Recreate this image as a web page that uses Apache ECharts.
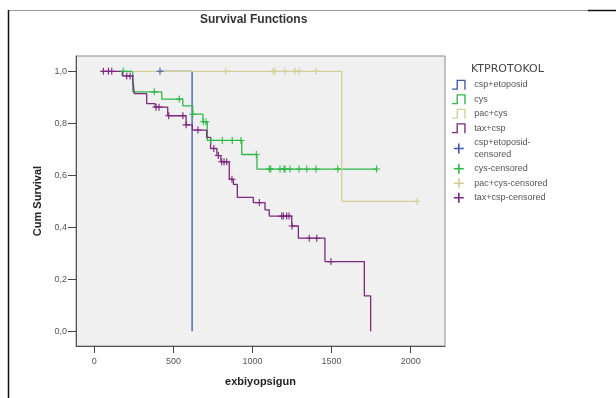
<!DOCTYPE html>
<html>
<head>
  <meta charset="utf-8" />
  <title>Survival Functions</title>
  <style>
    html, body { margin: 0; padding: 0; background: #fff; }
    #main { width: 616px; height: 398px; }
  </style>
</head>
<body>
  <div id="main"></div>
  <script src="https://cdn.jsdelivr.net/npm/echarts@6/dist/echarts.min.js"></script>
  <script>
    // step curves: [day, cum survival after that day]
    var etoSteps = [[415, 1], [618, 0]];
    var cysSteps = [[183, 1], [243, 0.921], [426, 0.893], [559, 0.867], [622, 0.835], [687, 0.806],
      [714, 0.734], [932, 0.680], [1028, 0.624], [1785, 0.624]];
    var pacSteps = [[240, 1], [1564, 0.5], [2040, 0.5]];
    var taxSteps = [[47, 1], [177, 0.982], [243, 0.965], [253, 0.914], [331, 0.876], [384, 0.862],
      [464, 0.829], [580, 0.794], [620, 0.774], [710, 0.746], [735, 0.703], [775, 0.676], [800, 0.652],
      [853, 0.585], [879, 0.565], [904, 0.515], [1005, 0.495], [1079, 0.467], [1106, 0.443],
      [1248, 0.405], [1290, 0.358], [1458, 0.268], [1707, 0.136], [1747, 0]];

    // censored times (days)
    var etoCens = [415];
    var cysCens = [183, 379, 537, 622, 689, 706, 736, 809, 872, 927, 1024, 1106, 1115, 1174, 1199,
      1206, 1237, 1294, 1343, 1402, 1539, 1785];
    var pacCens = [830, 1131, 1142, 1205, 1269, 1294, 1401, 2040];
    var taxCens = [57, 89, 110, 205, 226, 390, 409, 470, 560, 580, 655, 755, 784, 805, 820, 837, 870,
      1043, 1185, 1195, 1216, 1231, 1250, 1359, 1406, 1496];

    var groups = ['csp+etoposid', 'cys', 'pac+cys', 'tax+csp'];
    var colors = ['#3E58AC', '#2EB848', '#D3CE97', '#7C287D'];
    var xTicks = [0, 500, 1000, 1500, 2000];
    var yTicks = [0, 0.2, 0.4, 0.6, 0.8, 1.0];

    // survival value at a censored time, looked up on the step curve
    function survAt(steps, t) {
      var s = steps[0][1];
      for (var i = 0; i < steps.length; i++) {
        if (steps[i][0] <= t) s = steps[i][1];
      }
      return s;
    }

    var stepIcon = 'path://M0,19H10V0H30V22H27V3H13V22H0Z';
    var plusIcon = 'path://M4.2,0H5.8V4.2H10V5.8H5.8V10H4.2V5.8H0V4.2H4.2Z';

    var allSteps = [etoSteps, cysSteps, pacSteps, taxSteps];
    var allCens = [etoCens, cysCens, pacCens, taxCens];

    var series = [];
    var legendData = [];
    for (var g = 0; g < groups.length; g++) {
      series.push({
        name: groups[g],
        type: 'line',
        step: 'end',
        showSymbol: false,
        silent: true,
        data: allSteps[g],
        lineStyle: { color: colors[g], width: 1.3 },
        itemStyle: { color: colors[g] },
        z: 2
      });
      legendData.push({ name: groups[g], icon: stepIcon });
    }
    for (var g = 0; g < groups.length; g++) {
      series.push({
        name: groups[g] + '-censored',
        type: 'scatter',
        symbol: plusIcon,
        symbolSize: 7,
        silent: true,
        data: allCens[g].map(function (t) { return [t, survAt(allSteps[g], t)]; }),
        itemStyle: { color: colors[g], opacity: 1 },
        z: 3
      });
      legendData.push({ name: groups[g] + '-censored', icon: plusIcon });
    }

    var chart = echarts.init(document.getElementById('main'), null, { renderer: 'canvas' });
    chart.setOption({
      animation: false,
      backgroundColor: '#fff',
      title: [
        {
          text: 'Survival Functions',
          left: 195,
          top: 9,
          textStyle: { fontSize: 12, fontWeight: 'bold', color: '#333', fontFamily: 'Liberation Sans' }
        },
        {
          text: 'KTPROTOKOL',
          left: 466,
          top: 59,
          textStyle: { fontSize: 11, fontWeight: 'normal', color: '#444', fontFamily: 'DejaVu Sans' }
        }
      ],
      legend: {
        orient: 'vertical',
        left: 447,
        top: 74,
        itemWidth: 15,
        itemHeight: 10,
        itemGap: 3,
        selectedMode: false,
        data: legendData,
        formatter: function (name) {
          return name === 'csp+etoposid-censored' ? 'csp+etoposid-\ncensored' : name;
        },
        textStyle: { fontSize: 9, color: '#555', lineHeight: 11.5, fontFamily: 'Liberation Sans', padding: [0, 0, 0, 3] }
      },
      grid: {
        left: 76,
        top: 56,
        right: 171,
        bottom: 52,
        show: true,
        backgroundColor: '#F0F0F0',
        borderColor: '#8c8c8c',
        borderWidth: 1
      },
      xAxis: {
        type: 'value',
        min: -116,
        max: 2217,
        name: 'exbiyopsigun',
        nameLocation: 'middle',
        nameGap: 30,
        nameTextStyle: { fontSize: 11, fontWeight: 'bold', color: '#222', fontFamily: 'Liberation Sans' },
        axisLine: { show: true, onZero: false, lineStyle: { color: '#555' } },
        axisTick: { show: true, customValues: xTicks, length: 7, lineStyle: { color: '#444' } },
        axisLabel: {
          customValues: xTicks,
          margin: 11,
          fontSize: 9,
          color: '#555',
          fontFamily: 'Liberation Sans',
          formatter: function (v) { return String(v); }
        },
        splitLine: { show: false }
      },
      yAxis: {
        type: 'value',
        min: -0.0565,
        max: 1.0588,
        name: 'Cum Survival',
        nameLocation: 'middle',
        nameGap: 32,
        nameTextStyle: { fontSize: 11, fontWeight: 'bold', color: '#222', fontFamily: 'Liberation Sans' },
        axisLine: { show: true, onZero: false, lineStyle: { color: '#555' } },
        axisTick: { show: true, customValues: yTicks, length: 8, lineStyle: { color: '#444' } },
        axisLabel: {
          customValues: yTicks,
          margin: 9,
          fontSize: 9,
          color: '#555',
          fontFamily: 'Liberation Sans',
          formatter: function (v) { return v.toFixed(1).replace('.', ','); }
        },
        splitLine: { show: false }
      },
      graphic: [
        { type: 'line', shape: { x1: 8, y1: 10.5, x2: 588, y2: 10.5 }, style: { stroke: '#999', lineWidth: 1 } },
        { type: 'line', shape: { x1: 588, y1: 10.5, x2: 616, y2: 10.5 }, style: { stroke: '#111', lineWidth: 1.5 } },
        { type: 'line', shape: { x1: 8.5, y1: 10, x2: 8.5, y2: 398 }, style: { stroke: '#111', lineWidth: 1.5 } }
      ],
      series: series
    });
  </script>
</body>
</html>
